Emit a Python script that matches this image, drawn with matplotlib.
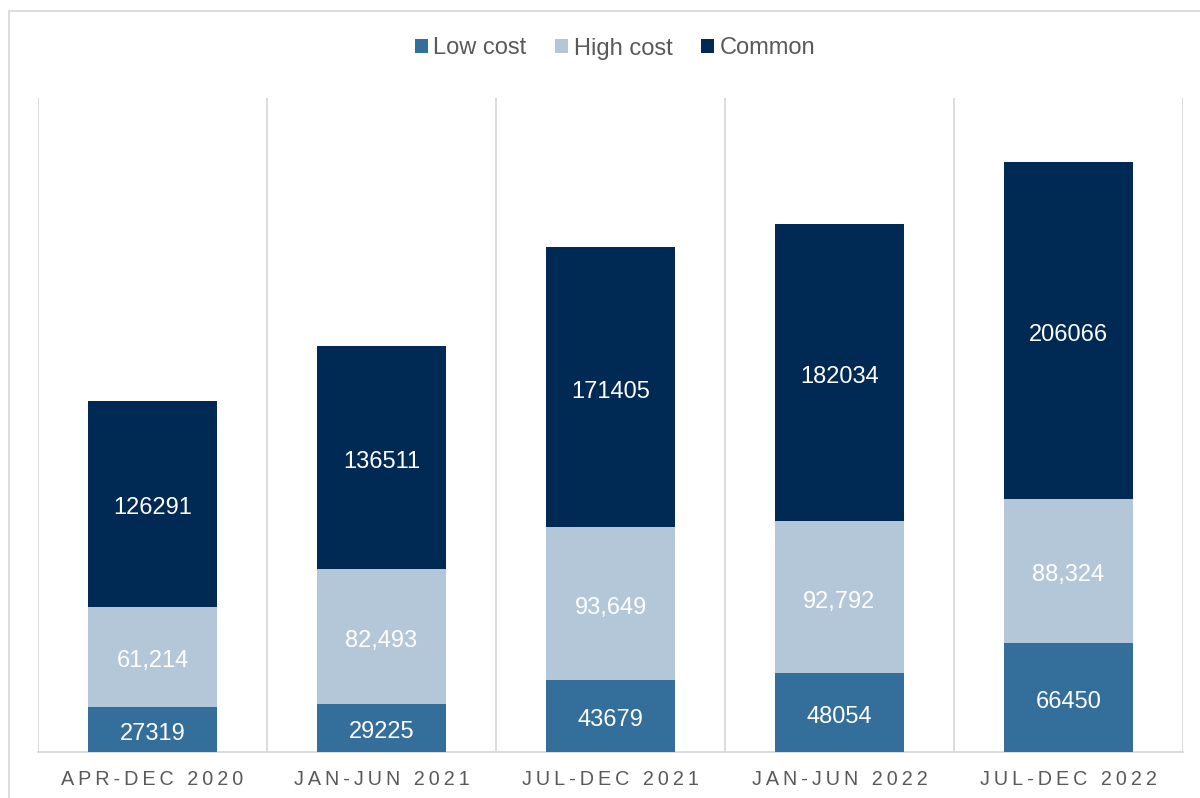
import matplotlib
matplotlib.use("Agg")
import matplotlib.pyplot as plt
from matplotlib.patches import Rectangle
from matplotlib.transforms import offset_copy
import numpy as np

plt.rcParams['font.family'] = ['Liberation Sans', 'DejaVu Sans']

periods = ["APR-DEC 2020", "JAN-JUN 2021", "JUL-DEC 2021", "JAN-JUN 2022", "JUL-DEC 2022"]
low_cost = [27319, 29225, 43679, 48054, 66450]
high_cost = [61214, 82493, 93649, 92792, 88324]
common = [126291, 136511, 171405, 182034, 206066]

series_names = ["Low cost", "High cost", "Common"]
colors = ["#346E9A", "#B4C7D8", "#002A54"]
label_formats = ["{:.0f}", "{:,.0f}", "{:.0f}"]

fig = plt.figure(figsize=(12, 7.98), dpi=100)
ax = fig.add_axes([38 / 1200, 1 - 751.5 / 798, (1183 - 38) / 1200, (751.5 - 98) / 798])

label_tf = offset_copy(ax.transData, fig=fig, x=0, y=-2, units='dots')

x = np.arange(len(periods))
bottom = np.zeros(len(periods))
handles = []
for vals, name, col, fmt in zip([low_cost, high_cost, common], series_names, colors, label_formats):
    vals = np.array(vals, dtype=float)
    bars = ax.bar(x, vals, width=0.56, bottom=bottom, color=col, label=name, zorder=3)
    handles.append(bars)
    for xi, b, v in zip(x, bottom, vals):
        ax.text(xi, b + v / 2, fmt.format(v), ha='center', va='center_baseline',
                color='white', fontsize=17, zorder=4, transform=label_tf)
    bottom += vals

ax.set_xlim(-0.5, len(periods) - 0.5)
ax.set_ylim(0, 400000)
ax.set_yticks([])

# category separators
ax.set_xticks(np.arange(len(periods) + 1) - 0.5, minor=True)
ax.grid(which='minor', axis='x', color='#D9D9D9', linewidth=1.3, zorder=0)
ax.tick_params(which='minor', length=0)

spaced = ["\u2009".join(list(p)) for p in periods]
ax.set_xticks(x)
ax.set_xticklabels(spaced, fontsize=14.2, color='#595959')
ax.tick_params(axis='x', which='major', length=0, pad=13)

for s in ['left', 'right', 'top']:
    ax.spines[s].set_visible(False)
ax.spines['bottom'].set_color('#D9D9D9')
ax.spines['bottom'].set_linewidth(1.3)

fig.legend(handles=handles, labels=series_names, loc='center',
           bbox_to_anchor=(615 / 1200, 1 - 48.5 / 798), ncol=3, frameon=False,
           fontsize=17, labelcolor='#595959', handlelength=0.55, handleheight=0.55,
           handletextpad=0.25, columnspacing=1.2)

# chart frame
fig.patches.append(Rectangle((8.5 / 1200, -0.1), 1.2, 1 - 10.5 / 798 + 0.1,
                             transform=fig.transFigure, fill=False,
                             edgecolor='#D9D9D9', linewidth=1.3, zorder=0))

fig.savefig("out.png", dpi=100)
